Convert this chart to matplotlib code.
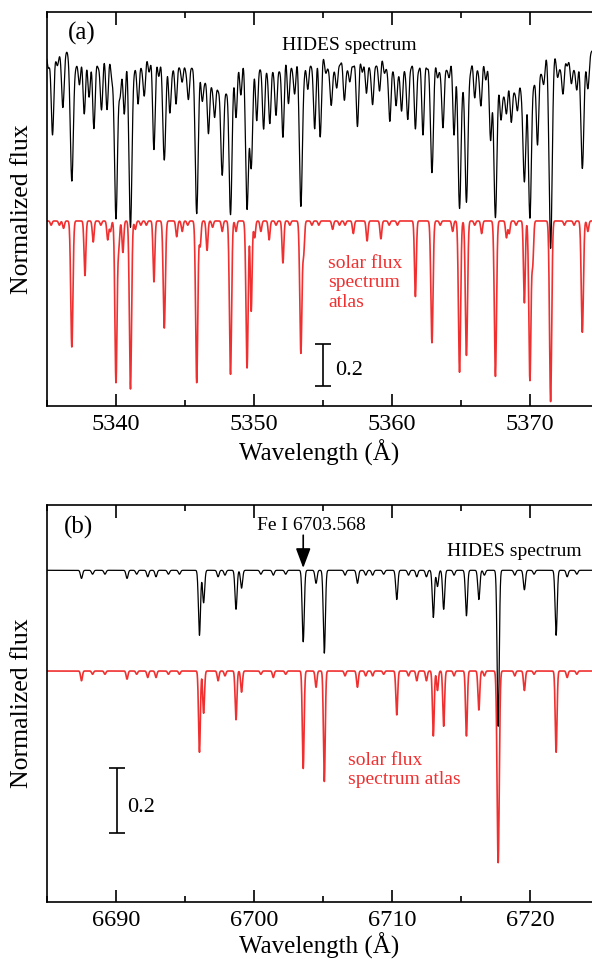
import numpy as np
import matplotlib
matplotlib.use("Agg")
import matplotlib.pyplot as plt
from matplotlib.ticker import MultipleLocator

plt.rcParams['font.family'] = ['Liberation Serif', 'DejaVu Serif']

# ---- panel (a): 5335-5374.5 A ----
# solar flux atlas lines (wavelength, depth)
red_a_wl = [5335.3, 5335.9, 5336.2, 5336.8, 5337.75, 5338.35, 5338.9, 5339.4, 5339.6, 5340.0,
            5340.2, 5340.5, 5341.05, 5341.4, 5341.8, 5342.2, 5342.75, 5343.5, 5344.4, 5344.8,
            5345.2, 5345.85, 5346.1, 5346.6, 5347.0, 5347.7, 5348.3, 5348.7, 5349.5, 5349.8,
            5350.05, 5350.5, 5351.1, 5351.6, 5352.1, 5352.6, 5353.4, 5353.6, 5354.2, 5354.7,
            5355.7, 5356.2, 5356.6, 5357.2, 5358.2, 5359.2, 5359.8, 5360.4, 5361.7, 5362.9,
            5363.5, 5364.4, 5364.9, 5365.4, 5366.0, 5366.5, 5367.5, 5368.3, 5368.5, 5369.0,
            5369.6, 5370.0, 5370.2, 5371.5, 5372.5, 5373.2, 5373.8, 5374.2]
red_a_depth = [0.02, 0.02, 0.035, 0.60, 0.26, 0.10, 0.02, 0.09, 0.05, 0.77,
               0.12, 0.15, 0.80, 0.04, 0.02, 0.02, 0.29, 0.51, 0.075, 0.05,
               0.02, 0.77, 0.12, 0.14, 0.03, 0.05, 0.73, 0.05, 0.70, 0.43,
               0.08, 0.05, 0.09, 0.02, 0.20, 0.02, 0.63, 0.15, 0.02, 0.02,
               0.04, 0.02, 0.02, 0.06, 0.095, 0.085, 0.02, 0.02, 0.36, 0.58,
               0.02, 0.05, 0.72, 0.64, 0.02, 0.06, 0.74, 0.08, 0.06, 0.02,
               0.39, 0.76, 0.20, 0.86, 0.02, 0.02, 0.53, 0.05]

# HIDES spectrum lines (wavelength, depth)
blk_a_wl = [5335.1, 5335.4, 5335.75, 5336.15, 5336.8, 5337.1, 5337.35, 5337.7, 5338.05, 5338.4,
            5338.7, 5338.95, 5339.35, 5339.7, 5340.0, 5340.3, 5340.6, 5341.05, 5341.35, 5341.6,
            5341.85, 5342.05, 5342.4, 5342.75, 5343.1, 5343.5, 5343.9, 5344.1, 5344.35, 5344.6,
            5344.8, 5345.05, 5345.25, 5345.5, 5345.85, 5346.25, 5346.45, 5346.7, 5346.95, 5347.15,
            5347.4, 5347.7, 5348.0, 5348.3, 5348.7, 5349.05, 5349.5, 5349.8, 5350.2, 5350.45,
            5350.7, 5350.95, 5351.15, 5351.4, 5351.6, 5351.85, 5352.1, 5352.5, 5352.75, 5352.95,
            5353.4, 5353.65, 5353.9, 5354.15, 5354.4, 5354.8, 5355.2, 5355.4, 5355.6, 5355.8,
            5356.0, 5356.25, 5356.55, 5356.75, 5356.95, 5357.2, 5357.5, 5357.85, 5358.15, 5358.4,
            5358.6, 5358.85, 5359.1, 5359.45, 5359.65, 5359.85, 5360.1, 5360.3, 5360.5, 5360.7,
            5360.95, 5361.15, 5361.4, 5361.7, 5361.95, 5362.25, 5362.55, 5362.9, 5363.3, 5363.5,
            5363.7, 5363.95, 5364.15, 5364.5, 5364.9, 5365.15, 5365.4, 5365.7, 5366.0, 5366.25,
            5366.45, 5366.8, 5367.15, 5367.5, 5367.9, 5368.1, 5368.3, 5368.65, 5368.9, 5369.1,
            5369.35, 5369.6, 5370.0, 5370.3, 5370.55, 5370.8, 5371.0, 5371.5, 5372.0, 5372.2,
            5372.4, 5372.7, 5373.0, 5373.2, 5373.4, 5373.8, 5374.2]
blk_a_depth = [0.08, 0.40, 0.07, 0.27, 0.62, 0.06, 0.16, 0.30, 0.22, 0.37,
               0.07, 0.28, 0.28, 0.12, 0.80, 0.20, 0.30, 0.84, 0.07, 0.25,
               0.06, 0.21, 0.10, 0.47, 0.12, 0.52, 0.29, 0.07, 0.25, 0.06,
               0.14, 0.07, 0.22, 0.06, 0.77, 0.20, 0.08, 0.35, 0.08, 0.25,
               0.10, 0.56, 0.12, 0.77, 0.30, 0.20, 0.75, 0.55, 0.33, 0.07,
               0.37, 0.07, 0.34, 0.07, 0.30, 0.08, 0.41, 0.25, 0.06, 0.20,
               0.74, 0.07, 0.18, 0.06, 0.37, 0.41, 0.10, 0.06, 0.25, 0.06,
               0.17, 0.06, 0.23, 0.06, 0.14, 0.07, 0.36, 0.10, 0.20, 0.06,
               0.25, 0.06, 0.19, 0.10, 0.06, 0.33, 0.07, 0.25, 0.07, 0.28,
               0.07, 0.32, 0.07, 0.37, 0.08, 0.40, 0.08, 0.58, 0.12, 0.07,
               0.36, 0.07, 0.12, 0.40, 0.75, 0.08, 0.72, 0.08, 0.22, 0.07,
               0.25, 0.12, 0.40, 0.78, 0.25, 0.08, 0.20, 0.25, 0.08, 0.20,
               0.08, 0.60, 0.79, 0.12, 0.44, 0.08, 0.15, 0.94, 0.12, 0.06,
               0.20, 0.07, 0.15, 0.06, 0.18, 0.56, 0.18]
# broad shallow depressions in the HIDES spectrum
blk_a_broad_wl = [5347.3, 5368.5]
blk_a_broad_depth = [0.08, 0.12]

# ---- panel (b): 6685-6724.5 A ----
red_b_wl = [6687.5, 6688.3, 6689.2, 6690.8, 6691.5, 6692.3, 6692.9, 6693.8, 6694.6, 6696.05,
            6696.35, 6697.4, 6697.9, 6698.7, 6699.1, 6700.5, 6701.4, 6702.3, 6703.57, 6704.5,
            6705.1, 6706.6, 6707.5, 6708.1, 6708.6, 6709.4, 6710.35, 6711.2, 6711.8, 6712.5,
            6713.0, 6713.3, 6713.75, 6714.5, 6715.4, 6716.3, 6716.7, 6717.7, 6718.9, 6719.6,
            6720.3, 6721.9, 6722.7, 6723.4]
red_b_depth = [0.03, 0.01, 0.01, 0.025, 0.01, 0.02, 0.02, 0.01, 0.01, 0.25,
               0.13, 0.03, 0.015, 0.15, 0.065, 0.01, 0.02, 0.01, 0.30, 0.05,
               0.34, 0.015, 0.05, 0.015, 0.015, 0.01, 0.135, 0.015, 0.03, 0.03,
               0.20, 0.06, 0.17, 0.015, 0.20, 0.12, 0.015, 0.59, 0.015, 0.06,
               0.01, 0.25, 0.02, 0.01]
blk_b_wl = red_b_wl
blk_b_depth = [0.025, 0.012, 0.012, 0.025, 0.012, 0.02, 0.02, 0.012, 0.012, 0.20,
               0.10, 0.02, 0.015, 0.12, 0.055, 0.012, 0.015, 0.012, 0.22, 0.04,
               0.255, 0.015, 0.04, 0.015, 0.015, 0.012, 0.09, 0.015, 0.02, 0.02,
               0.145, 0.05, 0.12, 0.015, 0.14, 0.09, 0.015, 0.48, 0.015, 0.06,
               0.012, 0.20, 0.02, 0.012]

offset_a = 0.81   # vertical shift of the HIDES spectrum
offset_b = 0.31


def spectrum(wl, centers, depths, sigma, broad=()):
    flux = np.ones_like(wl)
    for c, d in zip(centers, depths):
        s = sigma
        if d > 0.5:
            s = sigma * 1.2
        flux *= 1 - d * np.exp(-0.5 * ((wl - c) / s) ** 2)
    for c, d in broad:
        flux *= 1 - d * np.exp(-0.5 * ((wl - c) / 0.9) ** 2)
    return flux


wl_a = np.arange(5334.0, 5376.0, 0.01)
wl_b = np.arange(6684.0, 6726.0, 0.01)

red_a = spectrum(wl_a, red_a_wl, red_a_depth, 0.065)
blk_a = spectrum(wl_a, blk_a_wl, blk_a_depth, 0.095, zip(blk_a_broad_wl, blk_a_broad_depth)) + offset_a
red_b = spectrum(wl_b, red_b_wl, red_b_depth, 0.065)
blk_b = spectrum(wl_b, blk_b_wl, blk_b_depth, 0.075) + offset_b

RED = '#f03030'
fig = plt.figure(figsize=(5.92, 9.59), dpi=100)
ax_a = fig.add_axes([47 / 592, 1 - 406 / 959, 1 - 47 / 592, (406 - 12) / 959])
ax_b = fig.add_axes([47 / 592, 1 - 902 / 959, 1 - 47 / 592, (902 - 505) / 959])


def style(ax, xlim, ylim, lpad):
    ax.set_xlim(*xlim)
    ax.set_ylim(*ylim)
    ax.spines['right'].set_visible(False)
    for s in ('left', 'bottom', 'top'):
        ax.spines[s].set_linewidth(1.2)
    ax.xaxis.set_major_locator(MultipleLocator(10))
    ax.xaxis.set_minor_locator(MultipleLocator(5))
    ax.tick_params(axis='x', which='both', direction='in', top=True, width=1.2, labelsize=17.5, pad=6)
    ax.tick_params(axis='x', which='major', length=9)
    ax.tick_params(axis='x', which='minor', length=4.5)
    ax.set_yticks([])
    ax.set_xlabel('Wavelength (Å)', fontsize=18, labelpad=lpad)
    ax.set_ylabel('Normalized flux', fontsize=18.5, labelpad=10)


# panel (a)
ax_a.plot(wl_a, blk_a, color='k', lw=0.9)
ax_a.plot(wl_a, red_a, color=RED, lw=1.2)
style(ax_a, (5335, 5374.5), (0.119, 1.995), 3)
ax_a.text(5336.5, 1.895, '(a)', fontsize=18, va='center', ha='left')
ax_a.text(5352.0, 1.836, 'HIDES spectrum', fontsize=14, va='center', ha='left')
ax_a.text(5355.4, 0.705, 'solar flux\nspectrum\natlas', fontsize=14, color=RED,
          va='center', ha='left', linespacing=1.2)
ax_a.errorbar([5355.0], [0.314], yerr=[0.1], color='k', capsize=6, lw=1.2, capthick=1.2)
ax_a.text(5355.9, 0.29, '0.2', fontsize=16, va='center', ha='left')

# panel (b)
ax_b.plot(wl_b, blk_b, color='k', lw=0.9)
ax_b.plot(wl_b, red_b, color=RED, lw=1.2)
style(ax_b, (6685, 6724.5), (0.289, 1.511), 1)
ax_b.text(6686.2, 1.443, '(b)', fontsize=18, va='center', ha='left')
ax_b.text(6700.2, 1.447, 'Fe I 6703.568', fontsize=14, va='center', ha='left')
ax_b.annotate('', xy=(6703.57, 1.317), xytext=(6703.57, 1.418),
              arrowprops=dict(arrowstyle='-|>,head_length=0.8,head_width=0.3',
                              color='k', lw=1.2, mutation_scale=15, shrinkA=0, shrinkB=0))
ax_b.text(6714.0, 1.369, 'HIDES spectrum', fontsize=14, va='center', ha='left')
ax_b.text(6706.8, 0.695, 'solar flux\nspectrum atlas', fontsize=14, color=RED,
          va='center', ha='left', linespacing=1.2)
ax_b.errorbar([6690.07], [0.60], yerr=[0.1], color='k', capsize=6, lw=1.2, capthick=1.2)
ax_b.text(6690.8, 0.58, '0.2', fontsize=16, va='center', ha='left')

fig.savefig('out.png', dpi=100)
